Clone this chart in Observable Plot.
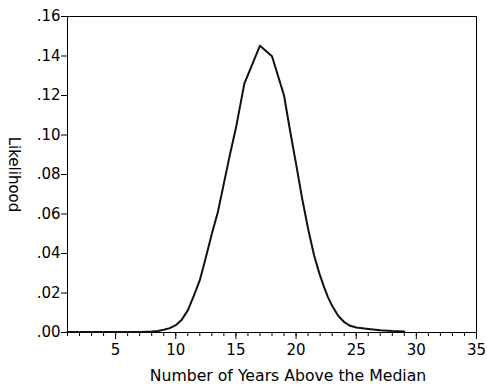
<!DOCTYPE html>
<html>
<head>
<meta charset="utf-8">
<script src="https://cdn.jsdelivr.net/npm/d3@7"></script>
<script src="https://cdn.jsdelivr.net/npm/@observablehq/plot@0.6"></script>
<style>
  html, body { margin: 0; padding: 0; background: #fff; }
  #chart svg { display: block; }
</style>
</head>
<body>
<div id="chart"></div>
<script>
const years = [1, 3, 5, 7, 8, 8.5, 9, 9.5, 10, 10.5, 11, 11.5, 12, 12.5, 13, 13.5, 14, 14.5, 15, 15.7, 17, 18, 19, 19.5, 20, 20.5, 21, 21.5, 21.95, 22.3, 22.65, 23, 23.5, 24, 24.5, 25, 26, 27, 28, 29];
const likelihood = [0.0002, 0.0002, 0.0003, 0.0003, 0.0005, 0.0008, 0.0014, 0.0022, 0.0037, 0.0065, 0.0112, 0.0185, 0.0265, 0.038, 0.050, 0.061, 0.0755, 0.090, 0.1035, 0.126, 0.1452, 0.1399, 0.120, 0.1023, 0.0854, 0.068, 0.0525, 0.039, 0.0297, 0.0235, 0.0179, 0.0135, 0.0085, 0.0053, 0.0034, 0.0025, 0.0018, 0.0011, 0.0007, 0.0005];
const yTicks = [0, 0.02, 0.04, 0.06, 0.08, 0.10, 0.12, 0.14, 0.16];
const xMajorTicks = [5, 10, 15, 20, 25, 30, 35];
const xMinorTicks = d3.range(1, 36);
const xLabel = "Number of Years Above the Median";
const yLabel = "Likelihood";

const data = years.map((x, i) => ({x, y: likelihood[i]}));

const chart = Plot.plot({
  width: 487,
  height: 386,
  marginLeft: 67,
  marginRight: 11,
  marginTop: 16,
  marginBottom: 54,
  style: {fontFamily: "'DejaVu Sans', sans-serif", fontSize: "15px", color: "#000", background: "#fff"},
  x: {domain: [1, 35]},
  y: {domain: [0, 0.16]},
  marks: [
    Plot.frame({stroke: "#000", strokeWidth: 1}),
    Plot.axisY({ticks: yTicks, tickSize: 6, tickPadding: 1, tickFormat: d => d.toFixed(2).replace(/^0/, ""), fontSize: 15, label: null, stroke: "#000", strokeOpacity: 1}),
    Plot.axisX({ticks: xMinorTicks, tickSize: 4, tickFormat: () => "", label: null, stroke: "#000", strokeOpacity: 1}),
    Plot.axisX({ticks: xMajorTicks, tickSize: 7, tickPadding: 5, fontSize: 15, label: null, stroke: "#000", strokeOpacity: 1}),
    Plot.text([xLabel], {frameAnchor: "bottom", text: d => d, textAnchor: "middle", lineAnchor: "bottom", dx: 16, dy: 48, fontSize: 15.7, fill: "#000"}),
    Plot.text([yLabel], {frameAnchor: "left", text: d => d, textAnchor: "middle", rotate: 90, dx: -54, fontSize: 15, fill: "#000"}),
    Plot.line(data, {x: "x", y: "y", stroke: "#111", strokeWidth: 2})
  ]
});
document.getElementById("chart").appendChild(chart);
</script>
</body>
</html>
